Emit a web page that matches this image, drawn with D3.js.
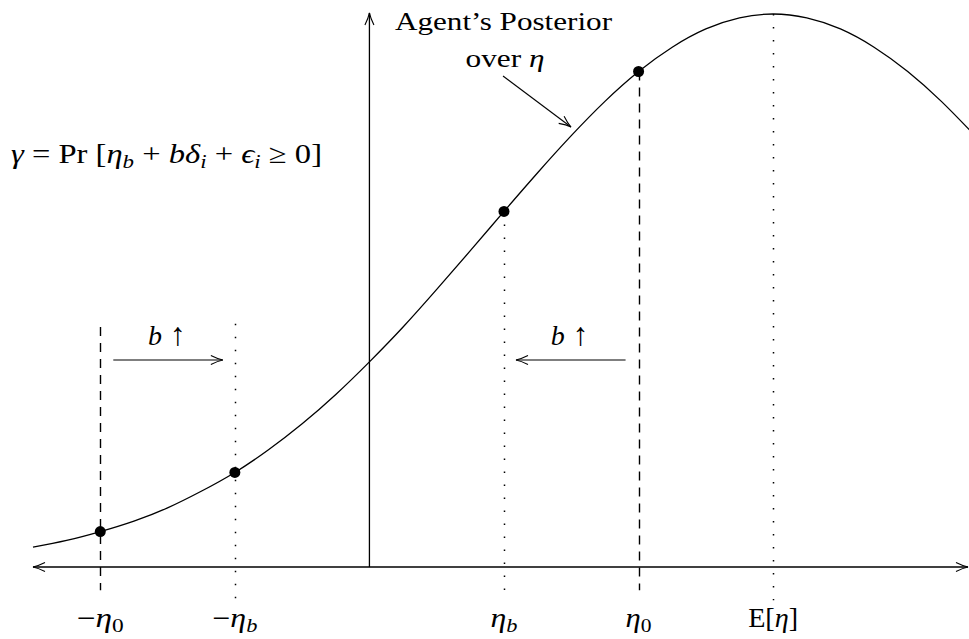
<!DOCTYPE html>
<html>
<head>
<meta charset="utf-8">
<script src="https://cdn.jsdelivr.net/npm/d3@7"></script>
<style>
  body { margin: 0; background: #fff; }
  svg text { font-family: "Liberation Serif", "Times New Roman", serif; fill: #000; }
  .it { font-style: italic; }
</style>
</head>
<body>
<div id="chart"></div>
<script>
// curve of the agent's posterior over eta (peak = 1)
const etaGrid = [-2.5, -2.25, -2, -1.75, -1.5, -1.25, -1, -0.75, -0.5, -0.25, 0,
  0.25, 0.5, 0.75, 1, 1.25, 1.5, 1.75, 2, 2.25, 2.5, 2.75, 3, 3.25, 3.5, 3.75, 4, 4.25, 4.5];
const density = [0.036, 0.048, 0.064, 0.083, 0.107, 0.137, 0.171, 0.212, 0.259, 0.312, 0.371,
  0.434, 0.502, 0.572, 0.643, 0.713, 0.780, 0.842, 0.896, 0.940, 0.973, 0.993, 1.000, 0.993,
  0.973, 0.940, 0.896, 0.842, 0.780];

// marked points on the curve
const pointEta = [-2, -1, 1, 2];
const pointVal = [0.064, 0.171, 0.643, 0.896];

// guide lines: position, top value, dash style
const guideEta = [-2, -1, 1, 2, 3];
const guideTop = [0.434, 0.44, 0.643, 0.896, 1.0];
const guideKind = ["dash", "dot", "dot", "dash", "dot"];

// tick labels under the axis: [main, subscript]
const tickEta = [-2, -1, 1, 2, 3];
const tickLabels = [["−η", "0"], ["−η", "b"], ["η", "b"], ["η", "0"], ["E[η]", ""]];
const tickWidths = [47, 45, 27, 26, 50];

const width = 969, height = 639;

const svg = d3.select("#chart").append("svg")
  .attr("width", width).attr("height", height);

const x = d3.scaleLinear().domain([-2.5, 4.5]).range([33, 975]);
const y = d3.scaleLinear().domain([0, 1]).range([567, 14]);

const defs = svg.append("defs");
defs.append("marker")
  .attr("id", "head")
  .attr("viewBox", "-13 -6 15 12")
  .attr("refX", 0).attr("refY", 0)
  .attr("markerUnits", "userSpaceOnUse")
  .attr("markerWidth", 15).attr("markerHeight", 12)
  .attr("orient", "auto-start-reverse")
  .append("path")
  .attr("d", "M-12,-4.5 Q-5,-1 0,0 Q-5,1 -12,4.5")
  .attr("fill", "none").attr("stroke", "#000").attr("stroke-width", 1.1);

// guide lines
guideEta.forEach((e, i) => {
  const gx = Math.round(x(e)) + 0.5;
  svg.append("line")
    .attr("x1", gx).attr("x2", gx)
    .attr("y1", y(guideTop[i]))
    .attr("y2", guideKind[i] === "dash" ? y(-0.042) : y(-0.06))
    .attr("stroke", "#000")
    .attr("stroke-width", guideKind[i] === "dash" ? 1.4 : 1.5)
    .attr("stroke-dasharray", guideKind[i] === "dash" ? "9,7" : "1.5,11.5");
});

// horizontal axis with arrows at both ends
svg.append("line")
  .attr("x1", 33).attr("x2", 968)
  .attr("y1", y(0)).attr("y2", y(0))
  .attr("stroke", "#000").attr("stroke-width", 1.3)
  .attr("marker-start", "url(#head)")
  .attr("marker-end", "url(#head)");

// vertical axis
svg.append("line")
  .attr("x1", x(0)).attr("x2", x(0))
  .attr("y1", y(0)).attr("y2", y(1.002))
  .attr("stroke", "#000").attr("stroke-width", 1.3)
  .attr("marker-end", "url(#head)");

// the posterior curve
const line = d3.line()
  .x((d, i) => x(etaGrid[i]))
  .y(d => y(d))
  .curve(d3.curveNatural);

svg.append("path")
  .datum(density)
  .attr("d", line)
  .attr("fill", "none")
  .attr("stroke", "#000")
  .attr("stroke-width", 1.3);

// points
svg.selectAll("circle.pt")
  .data(pointEta)
  .enter().append("circle")
  .attr("class", "pt")
  .attr("cx", d => x(d))
  .attr("cy", (d, i) => y(pointVal[i]))
  .attr("r", 5.5)
  .attr("fill", "#000");

// tick labels
tickEta.forEach((e, i) => {
  const t = svg.append("text")
    .attr("x", x(e)).attr("y", 627)
    .attr("text-anchor", "middle")
    .attr("font-size", 27)
    .attr("textLength", tickWidths[i]).attr("lengthAdjust", "spacingAndGlyphs");
  const lab = tickLabels[i];
  if (lab[0] === "E[η]") {
    t.append("tspan").text("E[");
    t.append("tspan").attr("class", "it").text("η");
    t.append("tspan").text("]");
  } else {
    if (lab[0][0] === "−") t.append("tspan").text("−");
    t.append("tspan").attr("class", "it").text("η");
    t.append("tspan").attr("dy", 5).attr("font-size", 19)
      .attr("class", lab[1] === "b" ? "it" : null).text(lab[1]);
  }
});

// b-up arrows
const shiftFrom = [-2, 2];
const shiftTo = [-1, 1];
shiftFrom.forEach((e, i) => {
  const dir = shiftTo[i] > e ? 1 : -1;
  const x1 = x(e) + dir * 13, x2 = x(shiftTo[i]) - dir * 12;
  svg.append("line")
    .attr("x1", x1).attr("x2", x2)
    .attr("y1", 360).attr("y2", 360)
    .attr("stroke", "#000").attr("stroke-width", 1.2)
    .attr("marker-end", "url(#head)");
  const t = svg.append("text")
    .attr("x", (x1 + x2) / 2 - 1).attr("y", 345)
    .attr("text-anchor", "middle").attr("font-size", 28);
  t.append("tspan").attr("class", "it").text("b");
  t.append("tspan").attr("font-size", 32).text(" ↑");
});

// title of the curve
svg.append("text")
  .attr("x", 395).attr("y", 30)
  .attr("font-size", 26)
  .attr("textLength", 217).attr("lengthAdjust", "spacingAndGlyphs")
  .text("Agent’s Posterior");
const ov = svg.append("text")
  .attr("x", 505).attr("y", 67)
  .attr("text-anchor", "middle").attr("font-size", 26)
  .attr("textLength", 79).attr("lengthAdjust", "spacingAndGlyphs");
ov.append("tspan").text("over ");
ov.append("tspan").attr("class", "it").text("η");

svg.append("line")
  .attr("x1", 503).attr("y1", 76)
  .attr("x2", 571).attr("y2", 127)
  .attr("stroke", "#000").attr("stroke-width", 1.1)
  .attr("marker-end", "url(#head)");

// gamma formula
const f = svg.append("text")
  .attr("x", 11).attr("y", 163)
  .attr("font-size", 27)
  .attr("textLength", 311).attr("lengthAdjust", "spacingAndGlyphs");
f.append("tspan").attr("class", "it").text("γ");
f.append("tspan").text(" = Pr [");
f.append("tspan").attr("class", "it").text("η");
f.append("tspan").attr("class", "it").attr("dy", 5).attr("font-size", 19).text("b");
f.append("tspan").attr("dy", -5).text(" + ");
f.append("tspan").attr("class", "it").text("bδ");
f.append("tspan").attr("class", "it").attr("dy", 5).attr("font-size", 19).text("i");
f.append("tspan").attr("dy", -5).text(" + ");
f.append("tspan").attr("class", "it").text("ϵ");
f.append("tspan").attr("class", "it").attr("dy", 5).attr("font-size", 19).text("i");
f.append("tspan").attr("dy", -5).text(" ≥ 0]");
</script>
</body>
</html>
